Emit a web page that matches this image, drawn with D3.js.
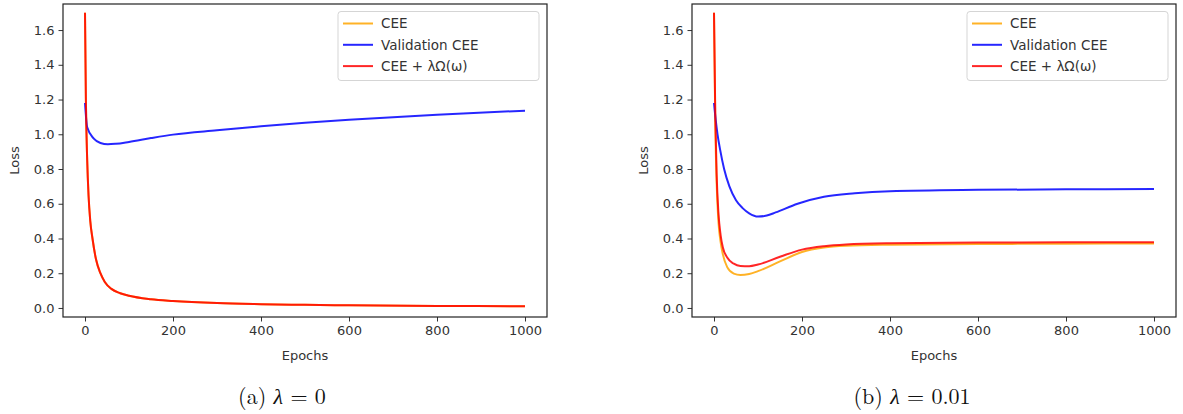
<!DOCTYPE html>
<html lang="en">
<head>
<meta charset="UTF-8">
<title>Loss curves</title>
<script src="https://d3js.org/d3.v7.min.js"></script>
<style>
  body { margin: 0; background: #fff; }
  svg { display: block; }
  .tick text { font-family: "DejaVu Sans", sans-serif; font-size: 13px; fill: #333; }
  .tick line { stroke: #333; }
  .axis-label { font-family: "DejaVu Sans", sans-serif; font-size: 13px; fill: #333; }
  .legend text { font-family: "DejaVu Sans", sans-serif; font-size: 13.5px; fill: #333; }
  .caption { font-family: "Latin Modern Roman", "Liberation Serif", "DejaVu Serif", serif; font-size: 22px; fill: #111; }
</style>
</head>
<body>
<svg width="1183" height="414"></svg>
<script>
// series names and colours
const seriesNames = ["CEE", "Validation CEE", "CEE + λΩ(ω)"];
const seriesColors = ["#ffa500", "#0000ff", "#ff0000"];
const xTicks = [0, 200, 400, 600, 800, 1000];
const yTicks = [0, 0.2, 0.4, 0.6, 0.8, 1.0, 1.2, 1.4, 1.6];

// (a) lambda = 0 : CEE and regularised CEE coincide
const epochsA = [0, 2, 5, 8, 12, 17, 25, 35, 45, 60, 80, 100, 150, 200, 300, 400, 500, 600, 800, 1000];
const ceeA =    [1.70, 1.20, 0.85, 0.65, 0.50, 0.40, 0.28, 0.20, 0.15, 0.11, 0.085, 0.07, 0.05, 0.04, 0.028, 0.022, 0.018, 0.015, 0.012, 0.01];
const regA = ceeA;
const valEpochsA = [0, 5, 20, 35, 52, 70, 100, 150, 200, 300, 400, 500, 600, 800, 1000];
const valA =       [1.18, 1.04, 0.975, 0.95, 0.942, 0.945, 0.956, 0.978, 0.998, 1.023, 1.046, 1.066, 1.084, 1.113, 1.136];

// (b) lambda = 0.01
const epochsB = [0, 3, 6, 10, 15, 20, 30, 45, 60, 80, 100, 150, 200, 250, 300, 400, 600, 800, 1000];
const ceeB =    [1.70, 1.05, 0.72, 0.50, 0.38, 0.31, 0.235, 0.198, 0.19, 0.196, 0.212, 0.268, 0.322, 0.348, 0.358, 0.364, 0.368, 0.37, 0.371];
const regB =    [1.70, 1.10, 0.77, 0.55, 0.42, 0.35, 0.29, 0.255, 0.242, 0.24, 0.25, 0.295, 0.336, 0.356, 0.366, 0.373, 0.377, 0.378, 0.379];
const valEpochsB = [0, 4, 8, 14, 23, 35, 50, 65, 80, 100, 120, 140, 190, 250, 320, 400, 600, 800, 1000];
const valB =       [1.18, 1.08, 1.0, 0.91, 0.80, 0.70, 0.62, 0.575, 0.545, 0.526, 0.532, 0.55, 0.60, 0.64, 0.66, 0.672, 0.68, 0.683, 0.685];

const panels = [
  { left: 63, tag: "(a)", lambda: "0", captionX: 282,
    series: [[epochsA, ceeA], [valEpochsA, valA], [epochsA, regA]] },
  { left: 692, tag: "(b)", lambda: "0.01", captionX: 912,
    series: [[epochsB, ceeB], [valEpochsB, valB], [epochsB, regB]] }
];

const svg = d3.select("svg");
const plotW = 484, plotTop = 4, plotBottom = 317;

panels.forEach(p => {
  const x = d3.scaleLinear().domain([-50, 1050]).range([p.left, p.left + plotW]);
  const y = d3.scaleLinear().domain([-0.052, 1.75]).range([plotBottom, plotTop]);
  const g = svg.append("g");

  // lines
  const line = d3.line().x(d => x(d[0])).y(d => y(d[1])).curve(d3.curveMonotoneX);
  p.series.forEach((s, i) => {
    const pts = s[0].map((e, k) => [e, s[1][k]]);
    g.append("path").datum(pts)
      .attr("d", line)
      .attr("fill", "none")
      .attr("stroke", seriesColors[i])
      .attr("stroke-opacity", 0.85)
      .attr("stroke-width", 2);
  });

  // axes
  g.append("g").attr("transform", `translate(0,${plotBottom})`)
    .call(d3.axisBottom(x).tickValues(xTicks).tickSize(4.5).tickPadding(4).tickFormat(d3.format("d")))
    .call(a => a.select(".domain").remove());
  g.append("g").attr("transform", `translate(${p.left},0)`)
    .call(d3.axisLeft(y).tickValues(yTicks).tickSize(4.5).tickPadding(4).tickFormat(d3.format(".1f")))
    .call(a => a.select(".domain").remove());

  g.append("rect")
    .attr("x", p.left).attr("y", plotTop)
    .attr("width", plotW).attr("height", plotBottom - plotTop)
    .attr("fill", "none").attr("stroke", "#222").attr("stroke-width", 1.2);

  g.append("text").attr("class", "axis-label")
    .attr("x", p.left + plotW / 2).attr("y", 360)
    .attr("text-anchor", "middle").text("Epochs");
  g.append("text").attr("class", "axis-label")
    .attr("transform", `translate(${p.left - 44},${(plotTop + plotBottom) / 2}) rotate(-90)`)
    .attr("text-anchor", "middle").text("Loss");

  // legend
  const lx = p.left + plotW - 209, ly = 11.5;
  const lg = g.append("g").attr("class", "legend");
  lg.append("rect").attr("x", lx).attr("y", ly).attr("width", 201).attr("height", 69)
    .attr("rx", 3).attr("fill", "#fff").attr("fill-opacity", 0.8)
    .attr("stroke", "#d5d5d5");
  seriesNames.forEach((n, i) => {
    const yy = ly + 12 + i * 21.3;
    lg.append("line").attr("x1", lx + 5).attr("x2", lx + 35)
      .attr("y1", yy).attr("y2", yy)
      .attr("stroke", seriesColors[i]).attr("stroke-opacity", 0.85).attr("stroke-width", 2);
    lg.append("text").attr("x", lx + 43).attr("y", yy).attr("dy", "0.35em").text(n);
  });

  // sub-figure caption
  const cap = svg.append("text").attr("class", "caption")
    .attr("x", p.captionX).attr("y", 404)
    .attr("text-anchor", "middle");
  cap.append("tspan").text(p.tag + "  ");
  cap.append("tspan").attr("font-style", "italic").text("λ");
  cap.append("tspan").text(" = " + p.lambda);
});
</script>
</body>
</html>
